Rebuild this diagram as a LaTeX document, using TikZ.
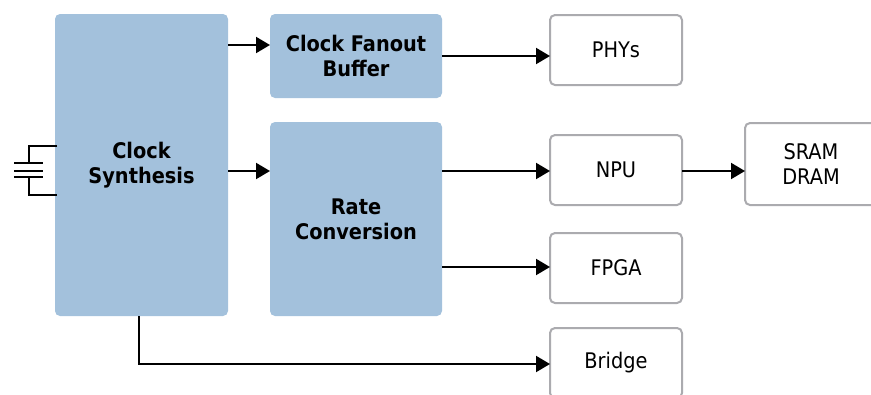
\documentclass[tikz,border=0pt]{standalone}
\usepackage{fontspec}
\setmainfont{DejaVu Sans Condensed}
\usetikzlibrary{arrows.meta}
\definecolor{bluefill}{HTML}{A3C1DC}
\definecolor{boxedge}{HTML}{ABABAF}
\tikzset{
  x=1pt,y=-1pt,
  solid box/.style={draw=none,fill=bluefill,rounded corners=5pt,inner sep=0pt,outer sep=0pt,align=center,font=\bfseries\fontsize{21.5}{25}\selectfont},
  plain box/.style={draw=boxedge,fill=white,line width=2pt,rounded corners=5pt,inner sep=0pt,outer sep=0pt,align=center,font=\fontsize{21.5}{25}\selectfont},
  link/.style={draw=black,line width=2pt,-{Triangle[length=14pt,width=16pt]}},
  wire/.style={draw=black,line width=2pt},
}
\begin{document}
\begin{tikzpicture}
\useasboundingbox (0,0) rectangle (871,394);
\clip (0,0) rectangle (871,394);
\node[solid box,minimum width=173pt,minimum height=302pt] (synth) at (141.5,165) {Clock\\Synthesis};
\node[solid box,minimum width=172pt,minimum height=84pt] (fan) at (356,56) {Clock Fanout\\Buffer};
\node[solid box,minimum width=172pt,minimum height=194pt] (rate) at (356,219) {Rate\\Conversion};
\node[plain box,minimum width=132pt,minimum height=70pt] (phys) at (616,50) {PHYs};
\node[plain box,minimum width=132pt,minimum height=70pt] (npu) at (616,170) {NPU};
\node[plain box,minimum width=132pt,minimum height=70pt] (fpga) at (616,268) {FPGA};
\node[plain box,minimum width=132pt,minimum height=70pt] (bridge) at (616,363) {Bridge};
\node[plain box,minimum width=132pt,minimum height=82pt] (mem) at (811,164) {SRAM\\DRAM};
\coordinate (ya) at (0,45);
\coordinate (yb) at (0,56);
\coordinate (yc) at (0,171);
\coordinate (yd) at (0,267);
\coordinate (ye) at (138.5,364);
\draw[link] (synth.east |- ya) -- (fan.west |- ya);
\draw[link] (fan.east |- yb) -- (phys.west |- yb);
\draw[link] (synth.east |- yc) -- (rate.west |- yc);
\draw[link] (rate.east |- yc) -- (npu.west |- yc);
\draw[link] (npu.east |- yc) -- (mem.west |- yc);
\draw[link] (rate.east |- yd) -- (fpga.west |- yd);
\draw[link] (ye |- synth.south) -- (ye) -- (bridge.west |- ye);
\coordinate (ct) at (57,146);
\coordinate (cb) at (57,195);
\draw[wire] (ct) -- (28.5,146) -- (28.5,163);
\draw[wire] (14,163) -- (43,163);
\draw[wire] (14,171) -- (43,171);
\draw[wire] (14,177) -- (43,177);
\draw[wire] (28.5,177) -- (28.5,195) -- (cb);
\end{tikzpicture}
\end{document}
